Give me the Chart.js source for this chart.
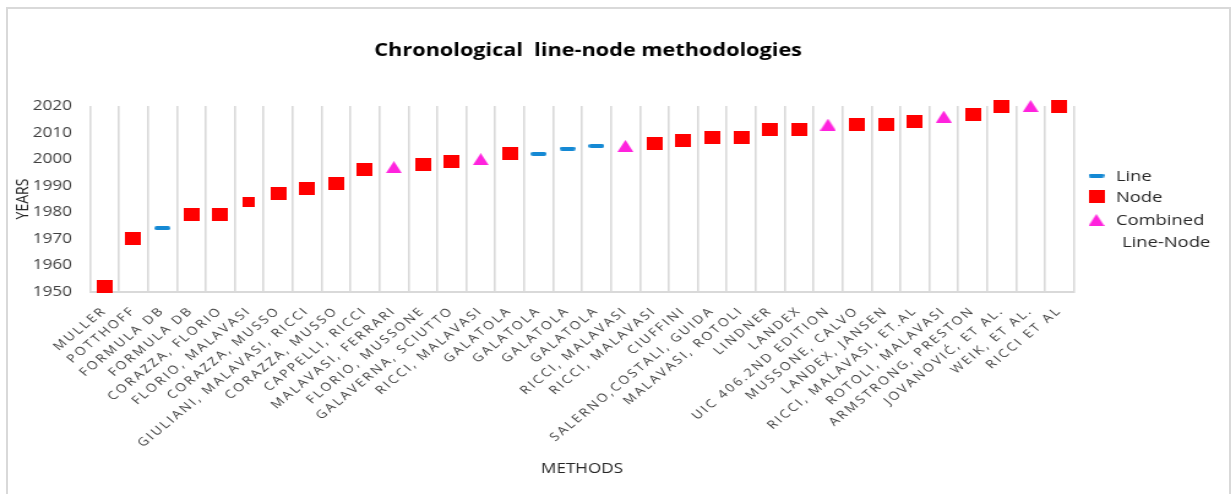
<!DOCTYPE html>
<html>
<head>
<meta charset="utf-8">
<title>Chronological line-node methodologies</title>
<script src="https://cdn.jsdelivr.net/npm/chart.js@4.4.1/dist/chart.umd.min.js"></script>
<style>
  html, body { margin: 0; padding: 0; background: #ffffff; overflow: hidden; }
  #frame {
    position: absolute; left: 6px; top: 7px; width: 1225px; height: 500px;
    border: 2px solid #d9d9d9; border-bottom: none; box-sizing: border-box;
  }
  /* the chart is laid out on a narrower canvas and widened horizontally */
  #stage {
    position: absolute; left: 0; top: 0; width: 1005px; height: 494px;
    transform: scaleX(1.225); transform-origin: 0 0;
  }
</style>
</head>
<body>
<div id="frame"></div>
<div id="stage"><canvas id="chart" width="1005" height="494"></canvas></div>
<script>
// Methods in chronological order
const methods = [
  'MULLER', 'POTTHOFF', 'FORMULA DB', 'FORMULA DB', 'CORAZZA, FLORIO',
  'FLORIO, MALAVASI', 'CORAZZA, MUSSO', 'GIULIANI, MALAVASI, RICCI', 'CORAZZA, MUSSO',
  'CAPPELLI, RICCI', 'MALAVASI, FERRARI', 'FLORIO, MUSSONE', 'GALAVERNA, SCIUTTO',
  'RICCI, MALAVASI', 'GALATOLA', 'GALATOLA', 'GALATOLA', 'GALATOLA',
  'RICCI, MALAVASI', 'RICCI, MALAVASI', 'CIUFFINI', 'SALERNO,COSTALI, GUIDA',
  'MALAVASI, ROTOLI', 'LINDNER', 'LANDEX', 'UIC 406.2ND EDITION', 'MUSSONE, CALVO',
  'LANDEX, JANSEN', 'RICCI, MALAVASI, ET.AL', 'ROTOLI, MALAVASI', 'ARMSTRONG, PRESTON',
  'JOVANOVIĆ, ET AL.', 'WEIK, ET AL.', 'RICCI ET AL'
];

// Year of each method, one array per methodology type (null = other type)
const lineYears = [
  null, null, 1974, null, null, null, null, null, null, null, null, null,
  null, null, null, 2002, 2004, 2005, null, null, null, null, null, null,
  null, null, null, null, null, null, null, null, null, null
];
const nodeYears = [
  1952, 1970, null, 1979, 1979, 1984, 1987, 1989, 1991, 1996, null, 1998,
  1999, null, 2002, null, null, null, null, 2006, 2007, 2008, 2008, 2011,
  2011, null, 2013, 2013, 2014, null, 2017, 2020, null, 2020
];
const combinedYears = [
  null, null, null, null, null, null, null, null, null, null, 1997, null,
  null, 2000, null, null, null, null, 2005, null, null, null, null, null,
  null, 2013, null, null, null, 2016, null, null, 2020, null
];

// Year axis range and tick step
const yearMin = 1950;
const yearMax = 2020;
const yearStep = 10;

// ---- marker glyphs ----
function markerCanvas(w, h, paint) {
  const c = document.createElement('canvas');
  c.width = w; c.height = h;
  paint(c.getContext('2d'), w, h);
  return c;
}
const dashMark = markerCanvas(13, 4, (g, w, h) => {
  g.fillStyle = '#1589d4';
  g.beginPath(); g.roundRect(0, 0, w, h, 2); g.fill();
});
const squareMark = markerCanvas(13, 13, (g, w, h) => {
  g.fillStyle = '#ff0000'; g.fillRect(0, 0, w, h);
});
const smallSquareMark = markerCanvas(10, 10, (g, w, h) => {
  g.fillStyle = '#ff0000'; g.fillRect(0, 0, w, h);
});
const triangleMark = markerCanvas(13, 12, (g, w, h) => {
  g.fillStyle = '#ff22dd';
  g.beginPath(); g.moveTo(w / 2, 0); g.lineTo(w, h); g.lineTo(0, h); g.closePath(); g.fill();
});

const FONT = "'Open Sans', sans-serif";
const X_LABEL_SPACING = '2px';
const TITLE_SHIFT = 5;

// letter-spaced category labels and title placement
const placement = {
  id: 'placement',
  afterLayout(chart) {
    const sx = chart.scales.x;
    if (!sx._spacedLabels) {
      const drawLabels = sx.drawLabels;
      sx.drawLabels = function (area) {
        const g = this.ctx;
        g.save();
        g.letterSpacing = X_LABEL_SPACING;
        drawLabels.call(this, area);
        g.restore();
      };
      sx._spacedLabels = true;
    }
    const tb = chart.titleBlock;
    if (tb && !tb._shifted) {
      const draw = tb.draw;
      tb.draw = function () {
        const g = this.ctx;
        g.save();
        g.translate(TITLE_SHIFT, 0);
        draw.call(this);
        g.restore();
      };
      tb._shifted = true;
    }
  }
};

// legend at the right of the plot, with a two-line last entry
const sideLegend = {
  id: 'sideLegend',
  afterDraw(chart) {
    const g = chart.ctx;
    const markerX = 895;
    const textX = 911;
    const rowY = [176.5, 197.5, 221];
    const lineGap = 21.5;
    g.save();
    g.font = `15px ${FONT}`;
    g.fillStyle = '#262626';
    g.textAlign = 'left';
    g.textBaseline = 'middle';
    chart.data.datasets.forEach((ds, i) => {
      const m = ds.legendMarker;
      const y = rowY[i];
      g.drawImage(m, markerX - m.width / 2, y - 1 - m.height / 2);
      const parts = ds.label.split(' ');
      parts.forEach((t, k) => g.fillText(t, textX + (k ? 5 : 0), y + k * lineGap));
    });
    g.restore();
  }
};

new Chart(document.getElementById('chart'), {
  type: 'line',
  data: {
    labels: methods,
    datasets: [
      { label: 'Line', data: lineYears, pointStyle: dashMark, legendMarker: dashMark },
      {
        label: 'Node', data: nodeYears, legendMarker: squareMark,
        pointStyle: methods.map((_, i) => (i === 5 ? smallSquareMark : squareMark))
      },
      { label: 'Combined Line-Node', data: combinedYears, pointStyle: triangleMark, legendMarker: triangleMark }
    ]
  },
  options: {
    responsive: false,
    animation: false,
    events: [],
    devicePixelRatio: 1,
    layout: { padding: { left: 0, right: 128.3, top: 0, bottom: 0 } },
    datasets: { line: { showLine: false, clip: false, pointRadius: 7 } },
    plugins: {
      legend: { display: false },
      tooltip: { enabled: false },
      title: {
        display: true,
        fullSize: false,
        text: 'Chronological  line-node methodologies',
        color: '#000000',
        font: { family: FONT, size: 17.7, weight: 'bold' },
        padding: { top: 40, bottom: 44.8 }
      }
    },
    scales: {
      x: {
        offset: true,
        grid: { offset: true, color: '#d9d9d9', lineWidth: 1.6, drawTicks: false },
        border: { display: true, color: '#d9d9d9', width: 2 },
        ticks: {
          autoSkip: false, minRotation: 45, maxRotation: 45, padding: 12,
          color: '#404040', font: { family: FONT, size: 11.5 }
        },
        title: {
          display: true, text: 'METHODS', color: '#262626',
          font: { family: FONT, size: 14 }, padding: { top: 0, bottom: 16.6 }
        },
        afterFit(scale) { scale.height = 202; }
      },
      y: {
        min: yearMin, max: yearMax,
        grid: { display: false, drawTicks: false },
        border: { display: false },
        ticks: {
          stepSize: yearStep, padding: 14.7,
          callback: (value) => String(value),
          color: '#404040', font: { family: FONT, size: 14 }
        },
        title: {
          display: true, text: 'YEARS', color: '#262626',
          font: { family: FONT, size: 14 }, padding: { top: 10.4, bottom: 0 }
        },
        afterFit(scale) { scale.width = 73.5; }
      }
    }
  },
  plugins: [placement, sideLegend]
});
</script>
</body>
</html>
